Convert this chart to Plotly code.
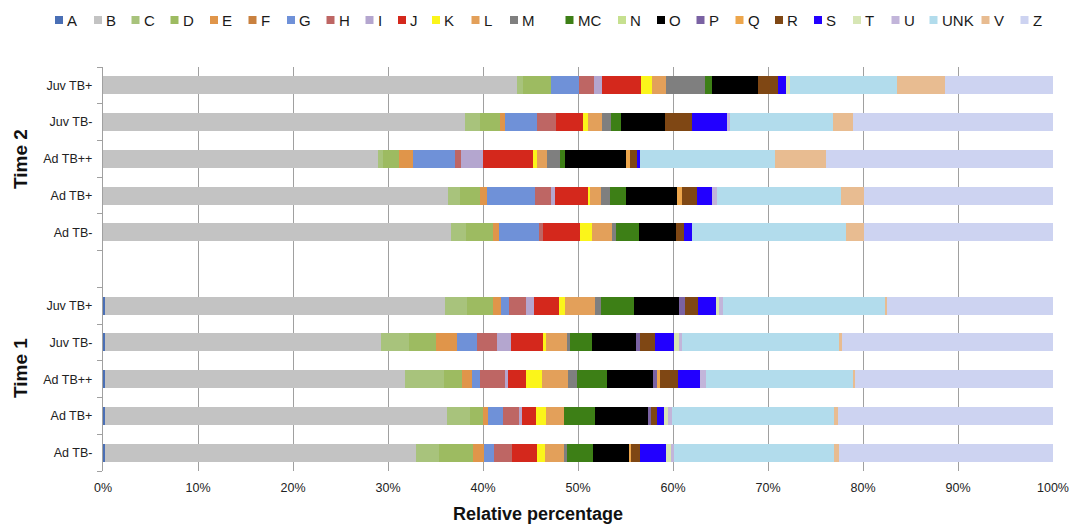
import plotly.graph_objects as go

# Rows from bottom to top: Time 1 group, an empty spacer row, Time 2 group
row_labels = ["Ad TB-", "Ad TB+", "Ad TB++", "Juv TB-", "Juv TB+", "",
              "Ad TB-", "Ad TB+", "Ad TB++", "Juv TB-", "Juv TB+"]
group_labels = ["Time 1", "Time 2"]

# Relative percentage of each taxon per sample row (None = spacer row)
A = [0.2, 0.2, 0.2, 0.2, 0.2, None, 0, 0, 0, 0, 0]
B = [32.7, 36.0, 31.55, 29.1, 35.85, None, 36.6, 36.35, 28.95, 38.1, 43.6]
C = [2.45, 2.45, 4.1, 2.9, 2.25, None, 1.65, 1.25, 0.55, 1.6, 0.6]
D = [3.6, 1.4, 1.9, 2.8, 2.7, None, 2.8, 2.1, 1.65, 2.05, 3.0]
E = [1.15, 0.5, 1.1, 2.3, 0.85, None, 0.65, 0.75, 1.5, 0.55, 0]
F = [0, 0, 0, 0, 0, None, 0, 0, 0, 0, 0]
G = [1.05, 1.55, 0.8, 2.05, 0.9, None, 4.2, 5.0, 4.45, 3.4, 2.9]
H = [1.95, 1.7, 2.65, 2.15, 1.75, None, 0.4, 1.7, 0.6, 2.0, 1.55]
I = [0, 0.35, 0.3, 1.4, 0.85, None, 0, 0.4, 2.3, 0, 0.85]
J = [2.6, 1.4, 1.9, 3.4, 2.6, None, 3.95, 3.45, 5.3, 2.8, 4.1]
K = [0.8, 1.05, 1.7, 0.35, 0.65, None, 1.25, 0.25, 0.35, 0.6, 1.2]
L = [2.0, 1.9, 2.75, 2.2, 3.2, None, 2.05, 1.15, 1.05, 1.4, 1.5]
M = [0.3, 0, 0.9, 0.35, 0.65, None, 0.5, 0.95, 1.45, 1.0, 4.1]
MC = [2.8, 3.25, 3.15, 2.3, 3.45, None, 2.35, 1.7, 0.45, 1.05, 0.7]
N = [0, 0, 0, 0, 0, None, 0, 0, 0, 0, 0]
O = [3.8, 5.6, 4.9, 4.65, 4.7, None, 3.95, 5.4, 6.5, 4.6, 4.8]
P = [0, 0.35, 0.4, 0.35, 0.65, None, 0, 0, 0, 0, 0]
Q = [0.15, 0, 0.3, 0, 0, None, 0, 0.45, 0.35, 0, 0]
R = [0.95, 0.6, 1.95, 1.6, 1.4, None, 0.8, 1.6, 0.85, 2.9, 2.2]
S = [2.75, 0.75, 2.25, 2.0, 1.85, None, 0.85, 1.6, 0.2, 3.7, 0.8]
T = [0.5, 0.45, 0, 0.6, 0.35, None, 0, 0, 0, 0, 0.4]
U = [0.35, 0.35, 0.7, 0.2, 0.45, None, 0, 0.5, 0, 0.2, 0]
UNK = [16.8, 17.05, 15.5, 16.65, 17.05, None, 16.2, 13.1, 14.2, 10.85, 11.3]
V = [0.55, 0.45, 0.2, 0.2, 0.15, None, 1.95, 2.45, 5.4, 2.1, 5.0]
Z = [22.55, 22.65, 20.8, 22.25, 17.5, None, 19.85, 19.85, 23.9, 21.1, 11.4]

series_names = ["A", "B", "C", "D", "E", "F", "G", "H", "I", "J", "K", "L", "M",
                "MC", "N", "O", "P", "Q", "R", "S", "T", "U", "UNK", "V", "Z"]
series_values = [A, B, C, D, E, F, G, H, I, J, K, L, M,
                 MC, N, O, P, Q, R, S, T, U, UNK, V, Z]

colors = {
    "A": "#4a6fb5", "B": "#c3c3c3", "C": "#a8c37c", "D": "#9dbb61",
    "E": "#e0954a", "F": "#c9813f", "G": "#6f91d8", "H": "#be6664",
    "I": "#b4a6cf", "J": "#d4281c", "K": "#fbf51a", "L": "#e3a05a",
    "M": "#7f7f7f", "MC": "#3d7f16", "N": "#c6e08f", "O": "#000000",
    "P": "#7a62a3", "Q": "#eda64c", "R": "#7f4714", "S": "#2200ff",
    "T": "#d7e6b5", "U": "#c2b5da", "UNK": "#b2dcec", "V": "#e8bc91",
    "Z": "#cdd3f1",
}

FONT = "Liberation Sans, Arial, Helvetica, sans-serif"
W, H_PX = 1070, 524
ML, MR, MT, MB = 103, 17, 67, 53
PW, PH = W - ML - MR, H_PX - MT - MB

rows = list(range(len(row_labels)))

fig = go.Figure()
for name, vals in zip(series_names, series_values):
    fig.add_trace(go.Bar(
        name=name, y=rows, x=vals, orientation="h",
        marker=dict(color=colors[name], line=dict(width=0)),
        showlegend=False,
    ))


def px_x(px):
    return (px - ML) / PW


def px_y(py):
    return (H_PX - MB - py) / PH


# Legend along the top: small colour squares with labels
legend_x = [59, 98, 135.5, 174.5, 214, 252.5, 291, 330.5, 369.5, 402, 436, 475.5,
            514, 569.5, 622, 661, 700.5, 739.5, 779, 818, 857, 895.5, 933.5,
            985.5, 1024.5]
legend_y = 20
shapes = []
annotations = []
for name, cx in zip(series_names, legend_x):
    shapes.append(dict(
        type="rect", xref="paper", yref="paper",
        x0=px_x(cx - 4), x1=px_x(cx + 4),
        y0=px_y(legend_y + 4), y1=px_y(legend_y - 4),
        fillcolor=colors[name], line=dict(width=0),
    ))
    annotations.append(dict(
        text=name, xref="paper", yref="paper", x=px_x(cx + 6), y=px_y(legend_y + 1),
        xanchor="left", yanchor="middle", showarrow=False,
        font=dict(family=FONT, size=15, color="#1a1a1a"),
    ))

# Group labels on the left
for label, py in zip(group_labels, [368, 159]):
    annotations.append(dict(
        text="<b>%s</b>" % label, xref="paper", yref="paper",
        x=px_x(20), y=px_y(py), textangle=-90, showarrow=False,
        xanchor="center", yanchor="middle",
        font=dict(family=FONT, size=19, color="#111111"),
    ))

# Axis title
annotations.append(dict(
    text="<b>Relative percentage</b>", xref="paper", yref="paper",
    x=px_x(538), y=px_y(514), showarrow=False,
    xanchor="center", yanchor="middle",
    font=dict(family=FONT, size=18, color="#111111"),
))

fig.update_layout(
    template="none",
    width=W, height=H_PX,
    margin=dict(l=ML, r=MR, t=MT, b=MB, pad=0, autoexpand=False),
    barmode="stack", bargap=0.51,
    plot_bgcolor="white", paper_bgcolor="white",
    font=dict(family=FONT, size=12.5, color="#222222"),
    shapes=shapes, annotations=annotations,
    xaxis=dict(
        range=[0, 100], tickmode="array", automargin=False,
        tickvals=list(range(0, 101, 10)),
        ticktext=["%d%%" % v for v in range(0, 101, 10)],
        showgrid=True, gridcolor="#a0a0a0", gridwidth=1.2,
        zeroline=False, showline=False, ticks="",
        tickfont=dict(family=FONT, size=12.5, color="#222222"),
        ticklabelstandoff=7,
    ),
    yaxis=dict(
        range=[-0.5, 10.5], tickmode="array", tickvals=rows, ticktext=row_labels,
        automargin=False,
        showgrid=False, zeroline=False,
        showline=True, linecolor="#a0a0a0", linewidth=1.2,
        ticks="", ticklabelstandoff=7,
        tickfont=dict(family=FONT, size=12.5, color="#222222"),
        minor=dict(tickmode="array", tickvals=[i + 0.5 for i in range(-1, 11)],
                   ticks="outside", ticklen=5, tickcolor="#a0a0a0", tickwidth=1,
                   showgrid=False),
    ),
)

fig.write_html("out.html")
